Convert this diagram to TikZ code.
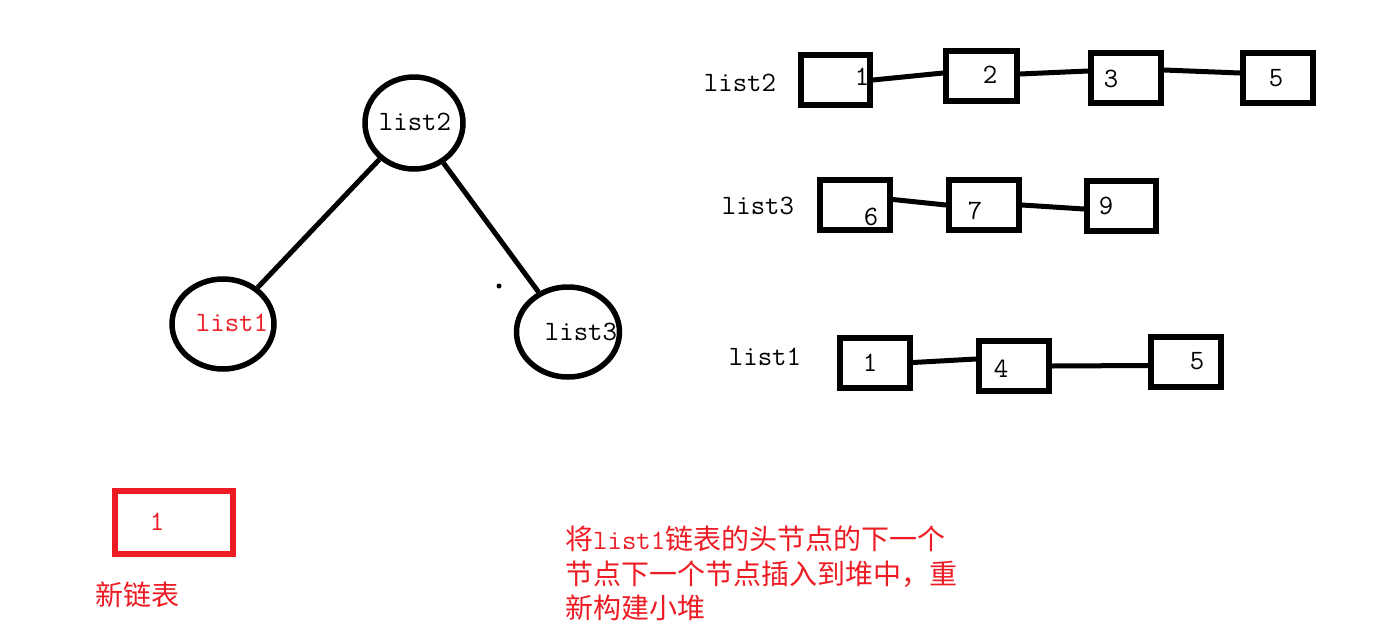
\documentclass[tikz,border=0pt]{standalone}
\usepackage{fontspec}
\newfontfamily\cjk{Noto Sans CJK SC}
\usetikzlibrary{shapes.geometric}
\definecolor{pred}{RGB}{237,28,36}
\tikzset{
  heapnode/.style={ellipse, draw, line width=5.5pt, inner sep=0pt},
  listbox/.style={rectangle, draw, line width=6pt, minimum width=70pt, minimum height=50pt, inner sep=0pt},
  lbl/.style={inner sep=0pt, font=\fontsize{28}{34}\selectfont\ttfamily},
  link/.style={line width=5pt},
  note/.style={inner sep=0pt, anchor=base west, text=pred, font=\fontsize{28}{35}\selectfont\ttfamily}
}
\begin{document}
\begin{tikzpicture}[x=1pt, y=-1pt]
\useasboundingbox (0,0) rectangle (1385,638);
% heap
\node[heapnode, minimum width=98pt, minimum height=92pt] (c2) at (414,123) {};
\node[heapnode, minimum width=102pt, minimum height=90pt] (c1) at (223,324) {};
\node[heapnode, minimum width=103pt, minimum height=90pt] (c3) at (568,332) {};
\node[lbl] (t2) at (415,122) {list2};
\node[lbl, text=pred] (t1) at (232,323) {list1};
\node[lbl] (t3) at (581,332) {list3};
\draw[link] (c2) -- (c1);
\draw[link] (c2) -- (c3);
\fill (499,286) circle (2.5pt);
% list2 row
\node[lbl] (L2) at (740,83) {list2};
\node[listbox, minimum width=69pt] (b21) at (835.5,80) {};
\node[listbox, minimum width=71pt] (b22) at (981.5,76) {};
\node[listbox] (b23) at (1126,78) {};
\node[listbox] (b25) at (1278,78) {};
\node[lbl] (n21) at (862,77) {1};
\node[lbl] (n22) at (990,75) {2};
\node[lbl] (n23) at (1111,79) {3};
\node[lbl] (n25) at (1276,78) {5};
\draw[link] (b21.east) -- ([yshift=3pt]b22.west);
\draw[link] ([yshift=2pt]b22.east) -- ([yshift=7pt]b23.west);
\draw[link] ([yshift=8pt]b23.east) -- ([yshift=5pt]b25.west);
% list3 row
\node[lbl] (L3) at (758,206) {list3};
\node[listbox] (b36) at (855,204.5) {};
\node[listbox] (b37) at (984,205) {};
\node[listbox, minimum width=69pt] (b39) at (1121.5,206) {};
\node[lbl] (n36) at (871,217) {6};
\node[lbl] (n37) at (975,211) {7};
\node[lbl] (n39) at (1106,206) {9};
\draw[link] ([yshift=5pt]b36.east) -- (b37.west);
\draw[link] (b37.east) -- ([yshift=-3pt]b39.west);
% list1 row
\node[lbl] (L1) at (765,357) {list1};
\node[listbox] (b11) at (875,362.5) {};
\node[listbox] (b14) at (1014,366) {};
\node[listbox] (b15) at (1186,361.5) {};
\node[lbl] (n11) at (870,363) {1};
\node[lbl] (n14) at (1001,369) {4};
\node[lbl] (n15) at (1197,361) {5};
\draw[link] (b11.east) -- ([yshift=7pt]b14.west);
\draw[link] (b14.east) -- ([yshift=-4pt]b15.west);
% new list
\node[rectangle, draw=pred, line width=6.5pt, minimum width=118pt, minimum height=63pt, inner sep=0pt] (nb) at (174,522.5) {};
\node[lbl, text=pred] (nn) at (157,522) {1};
\node[inner sep=0pt, text=pred, font=\fontsize{28}{34}\selectfont\cjk] (nl) at (137,595) {新链表};
% note
\node[note] (note1) at (565,549) {{\cjk 将}list1{\cjk 链表的头节点的下一个}};
\node[note] (note2) at (565,584) {{\cjk 节点下一个节点插入到堆中，重}};
\node[note] (note3) at (565,618) {{\cjk 新构建小堆}};
\end{tikzpicture}
\end{document}
